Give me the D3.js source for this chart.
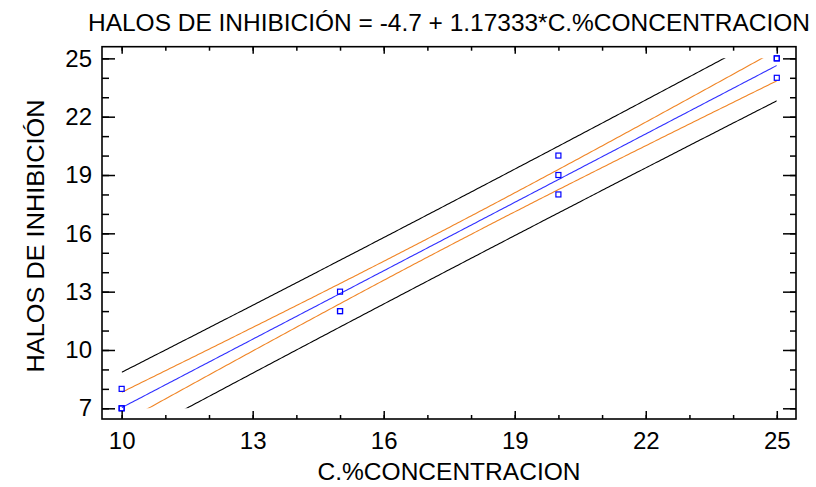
<!DOCTYPE html>
<html>
<head>
<meta charset="utf-8">
<script src="https://cdn.jsdelivr.net/npm/d3@7"></script>
<style>
  body { margin: 0; background: #fff; }
  text { font-family: "Liberation Sans", Arial, sans-serif; fill: #000; }
</style>
</head>
<body>
<svg id="chart" width="816" height="487"></svg>
<script>
const concentration = [10, 10, 10, 15, 15, 15, 20, 20, 20, 25, 25, 25];
const halos = [7, 7, 8, 12, 12, 13, 18, 19, 20, 24, 25, 25];
const xTicks = [10, 13, 16, 19, 22, 25];
const yTicks = [7, 10, 13, 16, 19, 22, 25];
const xMinor = d3.range(10, 26, 1);
const yMinor = d3.range(7, 26, 1);
const tCrit = 2.228; // t(0.975, 10 df)

const width = 816, height = 487;
const margin = { top: 46.7, right: 20, bottom: 68, left: 102 };

const svg = d3.select("#chart");

const x = d3.scaleLinear().domain([9.55, 25.44]).range([margin.left, width - margin.right]);
const y = d3.scaleLinear().domain([6.45, 25.6]).range([height - margin.bottom, margin.top]);

// least squares fit
const n = concentration.length;
const mx = d3.mean(concentration), my = d3.mean(halos);
const sxx = d3.sum(concentration, v => (v - mx) ** 2);
const sxy = d3.sum(concentration, (v, k) => (v - mx) * (halos[k] - my));
const b1 = sxy / sxx, b0 = my - b1 * mx;
const sse = d3.sum(concentration, (v, k) => (halos[k] - b0 - b1 * v) ** 2);
const s = Math.sqrt(sse / (n - 2));

const xs = d3.range(10, 25.001, 0.05);
const fit = xs.map(v => [v, b0 + b1 * v]);
function band(sign, extra) {
  return xs.map(v => {
    let h = tCrit * s * Math.sqrt(extra + 1 / n + (v - mx) ** 2 / sxx);
    return [v, b0 + b1 * v + sign * h];
  });
}

let lineGenerator = d3.line().x(d => x(d[0])).y(d => y(d[1]));

svg.append("clipPath").attr("id", "clip")
  .append("rect")
  .attr("x", x(10)).attr("y", y(25))
  .attr("width", x(25) - x(10)).attr("height", y(7) - y(25));

const lines = svg.append("g").attr("clip-path", "url(#clip)");
[[band(1, 1), "#000"], [band(-1, 1), "#000"],
 [band(1, 0), "#f08526"], [band(-1, 0), "#f08526"],
 [fit, "#3030ff"]].forEach(([pts, col]) => {
  lines.append("path")
    .attr("d", lineGenerator(pts))
    .attr("fill", "none")
    .attr("stroke", col)
    .attr("stroke-width", 1.1);
});

svg.append("g").selectAll("rect")
  .data(concentration)
  .join("rect")
  .attr("x", (d, k) => x(d) - 2.5)
  .attr("y", (d, k) => y(halos[k]) - 2.5)
  .attr("width", 5).attr("height", 5)
  .attr("fill", "none")
  .attr("stroke", "#0000ff")
  .attr("stroke-width", 1.2);

// axes
function tickAxis(axisFn, scale, values, size, tr, labels) {
  let ax = axisFn(scale).tickValues(values).tickSize(-size).tickSizeOuter(0).tickPadding(10);
  if (!labels) ax.tickFormat("");
  const g = svg.append("g").attr("transform", tr).call(ax);
  g.select(".domain").remove();
  g.selectAll("line").attr("stroke", "#000").attr("stroke-width", 1.5);
  g.selectAll("text").attr("font-size", 24).style("font-family", "Liberation Sans, Arial, sans-serif");
  return g;
}
const atLeft = `translate(${margin.left},0)`;
const atRight = `translate(${width - margin.right},0)`;
const atBottom = `translate(0,${height - margin.bottom})`;
const atTop = `translate(0,${margin.top})`;

tickAxis(d3.axisLeft, y, yMinor, 7, atLeft, false);
tickAxis(d3.axisLeft, y, yTicks, 13, atLeft, true);
tickAxis(d3.axisRight, y, yMinor, 6, atRight, false);
tickAxis(d3.axisRight, y, yTicks, 13, atRight, false);
tickAxis(d3.axisBottom, x, xMinor, 4, atBottom, false);
tickAxis(d3.axisBottom, x, xTicks, 8, atBottom, true).selectAll("text").attr("dy", "0.85em");
tickAxis(d3.axisTop, x, xMinor, 4, atTop, false);
tickAxis(d3.axisTop, x, xTicks, 7, atTop, false);

svg.append("rect")
  .attr("x", margin.left).attr("y", margin.top)
  .attr("width", width - margin.right - margin.left)
  .attr("height", height - margin.bottom - margin.top)
  .attr("fill", "none").attr("stroke", "#000").attr("stroke-width", 1.6);

const cx = (margin.left + width - margin.right) / 2;
svg.append("text")
  .attr("x", cx).attr("y", 31)
  .attr("text-anchor", "middle")
  .attr("font-size", 24)
  .attr("textLength", 722).attr("lengthAdjust", "spacingAndGlyphs")
  .text("HALOS DE INHIBICIÓN = -4.7 + 1.17333*C.%CONCENTRACION");

svg.append("text")
  .attr("x", cx).attr("y", 480)
  .attr("text-anchor", "middle")
  .attr("font-size", 23)
  .attr("textLength", 263).attr("lengthAdjust", "spacingAndGlyphs")
  .text("C.%CONCENTRACION");

svg.append("text")
  .attr("transform", `translate(44,236) rotate(-90)`)
  .attr("text-anchor", "middle")
  .attr("font-size", 23)
  .attr("textLength", 273).attr("lengthAdjust", "spacingAndGlyphs")
  .text("HALOS DE INHIBICIÓN");
</script>
</body>
</html>
